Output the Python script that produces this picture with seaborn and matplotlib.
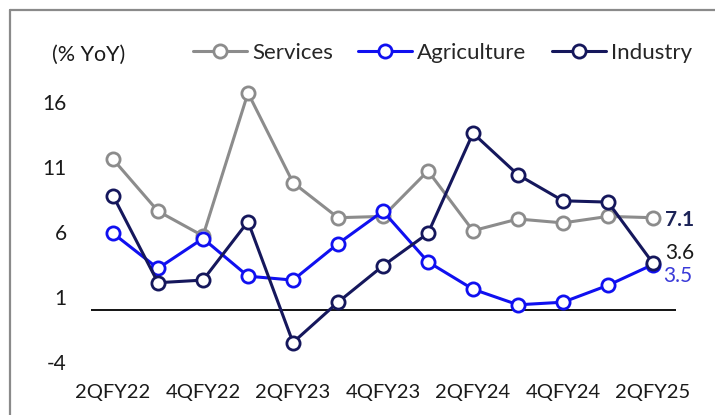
import matplotlib
matplotlib.use("Agg")
import matplotlib.pyplot as plt
from matplotlib.lines import Line2D
import seaborn as sns
import pandas as pd

quarters = ["2QFY22", "3QFY22", "4QFY22", "1QFY23", "2QFY23", "3QFY23", "4QFY23",
            "1QFY24", "2QFY24", "3QFY24", "4QFY24", "1QFY25", "2QFY25"]
services = [11.6, 7.6, 5.7, 16.7, 9.8, 7.1, 7.2, 10.7, 6.1, 7.0, 6.7, 7.2, 7.1]
agriculture = [5.9, 3.2, 5.5, 2.6, 2.3, 5.1, 7.6, 3.7, 1.6, 0.4, 0.6, 1.9, 3.5]
industry = [8.8, 2.1, 2.3, 6.8, -2.5, 0.6, 3.4, 5.9, 13.6, 10.4, 8.4, 8.3, 3.6]
y_ticks = [-4, 1, 6, 11, 16]

series = [("Services", services, "#8c8c8c"),
          ("Agriculture", agriculture, "#1010f0"),
          ("Industry", industry, "#15175c")]

sns.set_theme(style="white")
plt.rcParams["font.family"] = ["Lato", "DejaVu Sans"]

fig = plt.figure(figsize=(7.15, 4.15), dpi=100)
ax = fig.add_axes([90.5 / 715, 53 / 415, 585 / 715, 286 / 415])

pos = list(range(len(quarters)))
handles = []
for name, vals, col in series:
    df = pd.DataFrame({"q": pos, "v": vals})
    sns.lineplot(data=df, x="q", y="v", ax=ax, color=col, linewidth=2.2,
                 marker="o", markersize=9.5, markerfacecolor="white",
                 markeredgecolor=col, markeredgewidth=2.0, clip_on=False)
    handles.append(Line2D([], [], color=col, linewidth=2.2, marker="o",
                          markersize=9.5, markerfacecolor="white",
                          markeredgecolor=col, markeredgewidth=2.0, label=name))

ax.axhline(0, color="black", linewidth=1.3, zorder=1)
ax.set_xlim(-0.5, len(quarters) - 0.5)
ax.set_ylim(-4, 18)
ax.set_yticks(y_ticks)
ax.set_yticklabels([str(t) for t in y_ticks])
ax.set_xticks(pos[::2])
ax.set_xticklabels(quarters[::2])
ax.set_xlabel("")
ax.set_ylabel("")
ax.tick_params(axis="y", length=0, pad=17, labelsize=15, labelcolor="#1a1a1a")
ax.tick_params(axis="x", length=0, pad=16, labelsize=14.5, labelcolor="#1a1a1a")
for s in ax.spines.values():
    s.set_visible(False)
ax.patch.set_alpha(0)

# end-of-line value labels
last = len(quarters) - 1
ax.annotate(f"{services[-1]:.1f}", (last, services[-1]), xytext=(9, -2),
            textcoords="offset points", ha="left", va="center",
            fontsize=15, fontweight="bold", color="#1c2357")
ax.annotate(f"{industry[-1]:.1f}", (last, industry[-1]), xytext=(9, 7),
            textcoords="offset points", ha="left", va="center",
            fontsize=15, color="#1a1a1a")
ax.annotate(f"{agriculture[-1]:.1f}", (last, agriculture[-1]), xytext=(7, -8),
            textcoords="offset points", ha="left", va="center",
            fontsize=15, color="#3a3ad8")

fig.text(52 / 715, 1 - 55 / 415, "(% YoY)", ha="left", va="center",
         fontsize=15.5, color="#1a1a1a")

fig.legend(handles=handles, loc="center left", ncol=3, frameon=False,
           bbox_to_anchor=(193 / 715, 1 - 53 / 415), fontsize=16,
           handlelength=2.43, handletextpad=0.23, columnspacing=1.13,
           borderaxespad=0, borderpad=0)

# outer frame (left and top edges)
fig.add_artist(Line2D([10 / 715, 10 / 715], [0, 1 - 10 / 415], color="#8a8a8a",
                      linewidth=1.6, transform=fig.transFigure))
fig.add_artist(Line2D([10 / 715, 1], [1 - 10 / 415, 1 - 10 / 415], color="#8a8a8a",
                      linewidth=1.6, transform=fig.transFigure))

fig.savefig("out.png", dpi=100, facecolor="white")
